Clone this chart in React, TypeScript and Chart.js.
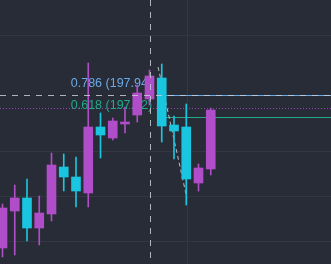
import { useEffect, useRef } from "react";
import { Chart, registerables } from "chart.js";

Chart.register(...registerables);

// ---- data ----
const candleIndex = [0, 1, 2, 3, 4, 5, 6, 7, 8, 9, 10, 11, 12, 13, 14, 15, 16, 17];
const opens = [196.41, 196.78, 196.91, 196.61, 196.75, 197.22, 197.12, 196.96, 197.62, 197.51, 197.65, 197.74, 197.9, 198.11, 197.64, 197.62, 197.06, 197.2];
const highs = [196.85, 197.04, 197.1, 196.93, 197.36, 197.35, 197.32, 198.26, 197.76, 197.71, 197.82, 198.04, 198.19, 198.25, 197.73, 197.85, 197.25, 197.81];
const lows = [196.32, 196.34, 196.48, 196.44, 196.68, 196.98, 196.82, 196.82, 197.31, 197.49, 197.56, 197.67, 197.84, 197.47, 197.3, 196.84, 196.98, 197.14];
const closes = [196.81, 196.91, 196.61, 196.76, 197.24, 197.12, 196.98, 197.62, 197.54, 197.68, 197.67, 197.96, 198.13, 197.63, 197.58, 197.1, 197.21, 197.79];

const gridPrices = [198.54, 197.38, 196.93, 196.48];
const gridTimes = [15.04];

const fibAnchorX = [12.7, 15.05];
const fibAnchorPrice = [198.22, 196.91];
const fibLevels = [0.786, 0.618];
const fibColors = ["#6aa9e8", "#22a88c"];

const dottedLevel = 197.81;
const crosshairX = 12.04;
const crosshairPrice = 197.94;

const yMin = 196.25;
const yMax = 198.89;
const xMin = -0.204;
const xMax = 26.816;

const UP = "#b04dc9";
const DOWN = "#1ac5df";
const BG = "#282c36";

export default function App() {
  const ref = useRef<HTMLCanvasElement | null>(null);

  useEffect(() => {
    document.body.style.margin = "0";
    document.body.style.background = BG;
    const canvas = ref.current;
    if (!canvas) return;

    const colors = candleIndex.map((i) => (closes[i] >= opens[i] ? UP : DOWN));

    const fibPrice = (lvl: number) =>
      fibAnchorPrice[1] + lvl * (fibAnchorPrice[0] - fibAnchorPrice[1]);

    const backPlugin = {
      id: "back",
      beforeDraw(chart: any) {
        const { ctx, width, height } = chart;
        ctx.save();
        ctx.fillStyle = BG;
        ctx.fillRect(0, 0, width, height);
        ctx.restore();
      },
      beforeDatasetsDraw(chart: any) {
        const { ctx, chartArea } = chart;
        const xs = chart.scales.x;
        const ys = chart.scales.y;
        ctx.save();
        // grid
        ctx.strokeStyle = "#323743";
        ctx.lineWidth = 1;
        gridPrices.forEach((p) => {
          const y = Math.round(ys.getPixelForValue(p)) + 0.5;
          ctx.beginPath();
          ctx.moveTo(chartArea.left, y);
          ctx.lineTo(chartArea.right, y);
          ctx.stroke();
        });
        gridTimes.forEach((t) => {
          const x = Math.round(xs.getPixelForValue(t)) + 0.5;
          ctx.beginPath();
          ctx.moveTo(x, chartArea.top);
          ctx.lineTo(x, chartArea.bottom);
          ctx.stroke();
        });
        // dotted horizontal level
        ctx.strokeStyle = "rgba(160,70,190,0.9)";
        ctx.setLineDash([1, 2]);
        const dy = Math.round(ys.getPixelForValue(dottedLevel)) + 0.5;
        ctx.beginPath();
        ctx.moveTo(chartArea.left, dy);
        ctx.lineTo(chartArea.right, dy);
        ctx.stroke();
        ctx.setLineDash([]);

        // fib lines and labels
        const startX = xs.getPixelForValue(fibAnchorX[0]);
        ctx.font = '12.5px "Liberation Sans", Arial, sans-serif';
        ctx.textAlign = "right";
        ctx.textBaseline = "alphabetic";
        fibLevels.forEach((lvl, k) => {
          const price = fibPrice(lvl);
          const y = Math.round(ys.getPixelForValue(price)) + 0.5;
          ctx.strokeStyle = fibColors[k];
          ctx.lineWidth = 1;
          ctx.beginPath();
          ctx.moveTo(startX, y);
          ctx.lineTo(chartArea.right, y);
          ctx.stroke();
          ctx.fillStyle = fibColors[k];
          ctx.fillText(`${lvl} (${price.toFixed(2)})`, startX - 6, y - 9);
        });

        // trend (diagonal) line
        ctx.strokeStyle = "rgba(200,204,212,0.9)";
        ctx.setLineDash([4, 3]);
        ctx.beginPath();
        ctx.moveTo(xs.getPixelForValue(fibAnchorX[0]), ys.getPixelForValue(fibAnchorPrice[0]));
        ctx.lineTo(xs.getPixelForValue(fibAnchorX[1]), ys.getPixelForValue(fibAnchorPrice[1]));
        ctx.stroke();
        ctx.restore();
      },
      afterDatasetsDraw(chart: any) {
        const { ctx, chartArea } = chart;
        const xs = chart.scales.x;
        const ys = chart.scales.y;
        ctx.save();
        ctx.strokeStyle = "rgba(200,204,212,0.85)";
        ctx.lineWidth = 1;
        ctx.setLineDash([6, 6]);
        const cx = Math.round(xs.getPixelForValue(crosshairX)) + 0.5;
        const cy = Math.round(ys.getPixelForValue(crosshairPrice)) + 0.5;
        ctx.beginPath();
        ctx.moveTo(cx, chartArea.top);
        ctx.lineTo(cx, chartArea.bottom);
        ctx.stroke();
        ctx.beginPath();
        ctx.moveTo(chartArea.left, cy);
        ctx.lineTo(chartArea.right, cy);
        ctx.stroke();
        ctx.restore();
      },
    };

    const chart = new Chart(canvas, {
      type: "bar",
      data: {
        datasets: [
          {
            label: "body",
            data: candleIndex.map((i) => ({ x: i, y: [opens[i], closes[i]] })) as any,
            backgroundColor: colors,
            borderWidth: 0,
            barThickness: 9,
            grouped: false,
            order: 1,
          } as any,
          {
            label: "wick",
            data: candleIndex.map((i) => ({ x: i, y: [lows[i], highs[i]] })) as any,
            backgroundColor: colors,
            borderWidth: 0,
            barThickness: 1,
            grouped: false,
            order: 2,
          } as any,
        ],
      },
      options: {
        animation: false,
        responsive: false,
        maintainAspectRatio: false,
        layout: { padding: 0 },
        plugins: { legend: { display: false }, tooltip: { enabled: false } },
        scales: {
          x: { type: "linear", min: xMin, max: xMax, display: false, offset: false },
          y: { type: "linear", min: yMin, max: yMax, display: false },
        },
      },
      plugins: [backPlugin],
    });
    return () => chart.destroy();
  }, []);

  return (
    <div style={{ width: 331, height: 264, background: BG }}>
      <canvas ref={ref} width={331} height={264} style={{ display: "block" }} />
    </div>
  );
}
